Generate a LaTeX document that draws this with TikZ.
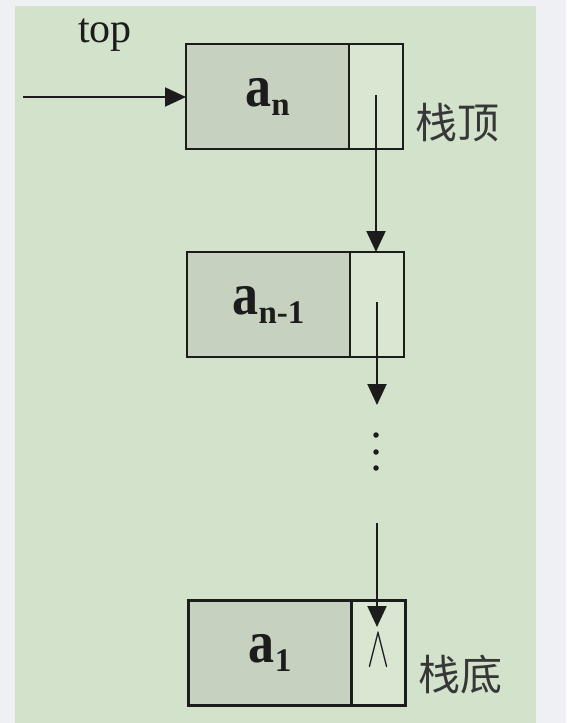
\documentclass[tikz,border=0pt]{standalone}
\usepackage{fontspec}
\setmainfont{Liberation Serif}
\newfontfamily\cjkf{Noto Sans CJK SC}
\usetikzlibrary{arrows.meta}
\definecolor{pagebg}{RGB}{238,240,244}
\definecolor{panel}{RGB}{211,226,203}
\definecolor{datafill}{RGB}{198,209,191}
\definecolor{ptrfill}{RGB}{217,230,210}
\definecolor{ink}{RGB}{28,28,28}
\definecolor{cjkink}{RGB}{55,55,55}
\newcommand\elemlabel[1]{\bfseries\scalebox{1}[1.15]{\fontsize{52}{52}\selectfont a}\raisebox{-9pt}{\fontsize{33}{33}\selectfont #1}}
\tikzset{
  datab/.style={draw=ink, line width=2.8pt, fill=datafill, minimum width=163pt, minimum height=105pt, inner sep=0pt, outer sep=0pt, text=ink},
  ptrb/.style={draw=ink, line width=2.8pt, fill=ptrfill, minimum width=54pt, minimum height=105pt, inner sep=0pt, outer sep=0pt},
  arr/.style={draw=ink, line width=2pt, -{Triangle[length=21pt,width=19pt]}},
  cjklabel/.style={font=\cjkf\fontsize{42}{42}\selectfont, text=cjkink, inner sep=0pt},
  dotm/.style={fill=ink, circle, inner sep=0pt, minimum size=5.5pt}
}
\begin{document}
\begin{tikzpicture}[x=1pt,y=-1pt]
\useasboundingbox (0,0) rectangle (566,723);
\fill[pagebg] (0,0) rectangle (566,723);
\fill[panel] (15,6) rectangle (536,723);

% boxes
\node[datab] (d1) at (267.5,96.5) {\elemlabel{n}};
\node[ptrb, anchor=west] (n1) at (d1.east) {};
\node[datab] (d2) at (268.5,304.5) {\elemlabel{n-1}};
\node[ptrb, anchor=west] (n2) at (d2.east) {};
\node[datab] (d3) at (270,653) {\elemlabel{1}};
\node[ptrb, anchor=west] (n3) at (d3.east) {};

% labels
\node[anchor=base, font=\fontsize{42}{42}\selectfont, text=ink, inner sep=0pt] (toplbl) at (105,42) {top};
\node[cjklabel] (topname) at (457,123) {栈顶};
\node[cjklabel] (botname) at (460,675) {栈底};
\node[text=ink, inner sep=0pt] (nullsym) at (378,650) {\scalebox{3.3}[5.8]{$\wedge$}};

% connectors
\coordinate (entry) at (23,97);
\draw[arr] (entry) -- (d1.west |- entry);

\coordinate (s1) at (376,95);
\draw[arr] (s1) -- (s1 |- n2.north);

\coordinate (s2) at (377,302);
\coordinate (e2) at (377,405);
\draw[arr] (s2) -- (e2);

\node[dotm] (dt1) at (376,435) {};
\node[dotm] (dt2) at (376,452) {};
\node[dotm] (dt3) at (376,468) {};

\coordinate (s3) at (377,523);
\coordinate (e3) at (377,627);
\draw[arr] (s3) -- (e3);
\end{tikzpicture}
\end{document}
